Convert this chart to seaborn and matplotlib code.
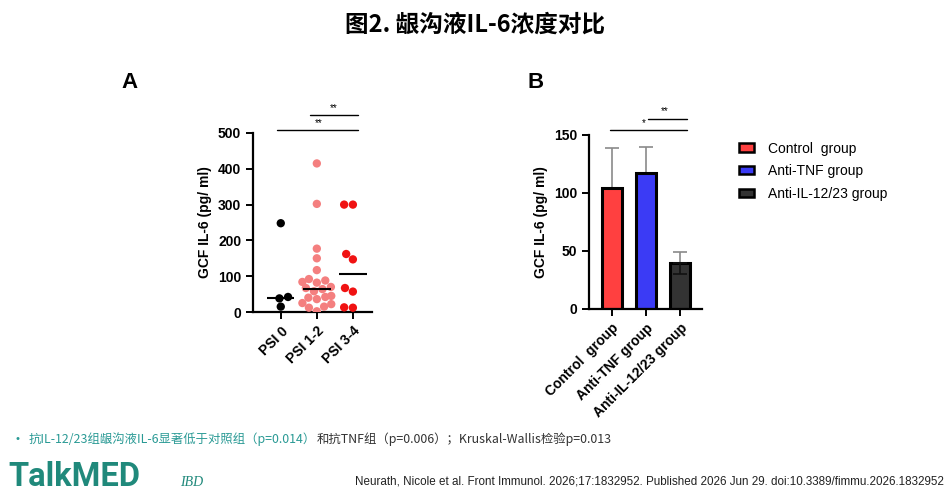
import numpy as np
import pandas as pd
import matplotlib
matplotlib.use("Agg")
import matplotlib.pyplot as plt
from matplotlib.patches import Patch
import seaborn as sns

# --- Data ---
psi_groups = ["PSI 0", "PSI 1-2", "PSI 3-4"]
psi0_vals = [248, 42, 38, 15]
psi12_vals = [415, 302, 177, 150, 117, 92, 88, 84, 82, 70, 67,
              64, 58, 45, 42, 40, 36, 25, 22, 15, 12, 2]
psi34_vals = [300, 300, 162, 147, 67, 57, 13, 12]
psi_colors = ["#000000", "#F47F7F", "#F01212"]

treat_groups = ["Control  group", "Anti-TNF group", "Anti-IL-12/23 group"]
treat_means = [104, 117, 39.5]
treat_err_up = [35, 23, 9.5]
treat_err_down = [0, 0, 9]
treat_colors = ["#FF4040", "#3B3BF5", "#333333"]

title = "图2. 龈沟液IL-6浓度对比"
note_teal = "抗IL-12/23组龈沟液IL-6显著低于对照组（p=0.014）"
note_dark = "和抗TNF组（p=0.006）；Kruskal-Wallis检验p=0.013"
citation = "Neurath, Nicole et al. Front Immunol. 2026;17:1832952. Published 2026 Jun 29. doi:10.3389/fimmu.2026.1832952"

sns.set_style("ticks")
plt.rcParams["font.family"] = ["Liberation Sans", "Noto Sans CJK SC", "DejaVu Sans"]
for key in ("text.color", "axes.labelcolor", "xtick.color", "ytick.color", "axes.edgecolor"):
    plt.rcParams[key] = "black"
cjk = ["Noto Sans CJK SC", "DejaVu Sans"]

fig = plt.figure(figsize=(9.51, 5.0), dpi=100)

# --- Panel A: scatter with medians ---
df_a = pd.DataFrame({
    "group": ["PSI 0"] * len(psi0_vals) + ["PSI 1-2"] * len(psi12_vals) + ["PSI 3-4"] * len(psi34_vals),
    "value": psi0_vals + psi12_vals + psi34_vals,
})
ax1 = fig.add_axes([253 / 951, 1 - 312 / 500, (372 - 253) / 951, (312 - 133) / 500])
sns.swarmplot(data=df_a, x="group", y="value", hue="group", order=psi_groups,
              palette=psi_colors, size=6, legend=False, ax=ax1, zorder=3)
medians = df_a.groupby("group")["value"].median().reindex(psi_groups)
for i, m in enumerate(medians):
    ax1.hlines(m, i - 0.38, i + 0.38, color="black", lw=1.5, zorder=4)
ax1.set_xlim(-0.77, 2.53)
ax1.set_ylim(0, 500)
ax1.set_yticks([0, 100, 200, 300, 400, 500])
ax1.set_xlabel("")
ax1.set_ylabel("GCF IL-6 (pg/ ml)", fontsize=10, fontweight="bold")
# significance bars
ax1.plot([-0.11, 2.14], [507, 507], color="black", lw=1, clip_on=False)
ax1.plot([0.81, 2.14], [549, 549], color="black", lw=1, clip_on=False)
ax1.text(1.04, 515, "**", ha="center", va="bottom", fontsize=7, clip_on=False)
ax1.text(1.48, 557, "**", ha="center", va="bottom", fontsize=7, clip_on=False)

# --- Panel B: bar chart ---
df_b = pd.DataFrame({"group": treat_groups, "mean": treat_means})
ax2 = fig.add_axes([589 / 951, 1 - 309 / 500, (702 - 589) / 951, (309 - 135) / 500])
ax2.errorbar(range(3), treat_means, yerr=[treat_err_down, treat_err_up], fmt="none",
             ecolor="#8a8a8a", elinewidth=1.2, capsize=5, capthick=1.2, zorder=1)
sns.barplot(data=df_b, x="group", y="mean", hue="group", palette=treat_colors,
            saturation=1, width=0.6, edgecolor="black", linewidth=2.2, legend=False,
            ax=ax2, zorder=2)
ax2.errorbar([2], [treat_means[2]], yerr=[[treat_err_down[2]], [0]], fmt="none",
             ecolor="#111111", elinewidth=1.2, capsize=5, capthick=1.2, zorder=3)
ax2.set_xlim(-0.67, 2.65)
ax2.set_ylim(0, 150)
ax2.set_yticks([0, 50, 100, 150])
ax2.set_xlabel("")
ax2.set_ylabel("GCF IL-6 (pg/ ml)", fontsize=10, fontweight="bold")
ax2.plot([-0.06, 2.21], [154, 154], color="black", lw=1, clip_on=False)
ax2.plot([1.07, 2.21], [164, 164], color="black", lw=1, clip_on=False)
ax2.text(0.93, 156, "*", ha="center", va="bottom", fontsize=7, clip_on=False)
ax2.text(1.55, 166.5, "**", ha="center", va="bottom", fontsize=7, clip_on=False)

for ax in (ax1, ax2):
    sns.despine(ax=ax)
    for s in ("left", "bottom"):
        ax.spines[s].set_linewidth(1.6)
    ax.tick_params(axis="both", width=1.4, length=5, labelsize=10)
    for lab in ax.get_yticklabels():
        lab.set_fontweight("bold")
    ax.set_xticks(range(3))
    ax.set_xticklabels(ax.get_xticklabels(), rotation=45, ha="right",
                       rotation_mode="anchor", fontweight="bold", fontsize=10)

handles = [Patch(facecolor=c, edgecolor="black", linewidth=1.8) for c in treat_colors]
fig.legend(handles, treat_groups, loc="upper left", bbox_to_anchor=(726 / 951, 1 - 129 / 500),
           frameon=False, fontsize=10, handlelength=1.1, handleheight=0.55,
           labelspacing=0.62, handletextpad=1.0)

# --- Texts ---
fig.text(475 / 951, 1 - 25 / 500, title, ha="center", va="center", fontsize=17,
         fontweight="bold", family=cjk)
fig.text(130 / 951, 1 - 82 / 500, "A", ha="center", va="center", fontsize=16, fontweight="bold")
fig.text(536 / 951, 1 - 82 / 500, "B", ha="center", va="center", fontsize=16, fontweight="bold")

fig.text(15 / 951, 1 - 439 / 500, "•", ha="left", va="center", fontsize=8, color="#2a9a95")
t1 = fig.text(29 / 951, 1 - 439 / 500, note_teal, ha="left", va="center", fontsize=8.9,
              color="#2a9a95", family=cjk)
fig.canvas.draw()
bb = t1.get_window_extent()
fig.text(bb.x1 / fig.bbox.width, 1 - 439 / 500, note_dark, ha="left", va="center",
         fontsize=8.9, color="#333333", family=cjk)

fig.text(8 / 951, 1 - 477 / 500, "TalkMED", ha="left", va="center", fontsize=23.5,
         fontweight="bold", color="#20897b", family=["Roboto", "DejaVu Sans"])
fig.text(180 / 951, 1 - 483 / 500, "IBD", ha="left", va="center", fontsize=10,
         style="italic", color="#20897b", family=["Liberation Serif", "DejaVu Serif"])
fig.text(944 / 951, 1 - 481 / 500, citation, ha="right", va="center", fontsize=8.4,
         color="#222222", family=["Liberation Sans"])

fig.savefig("out.png", dpi=100)
